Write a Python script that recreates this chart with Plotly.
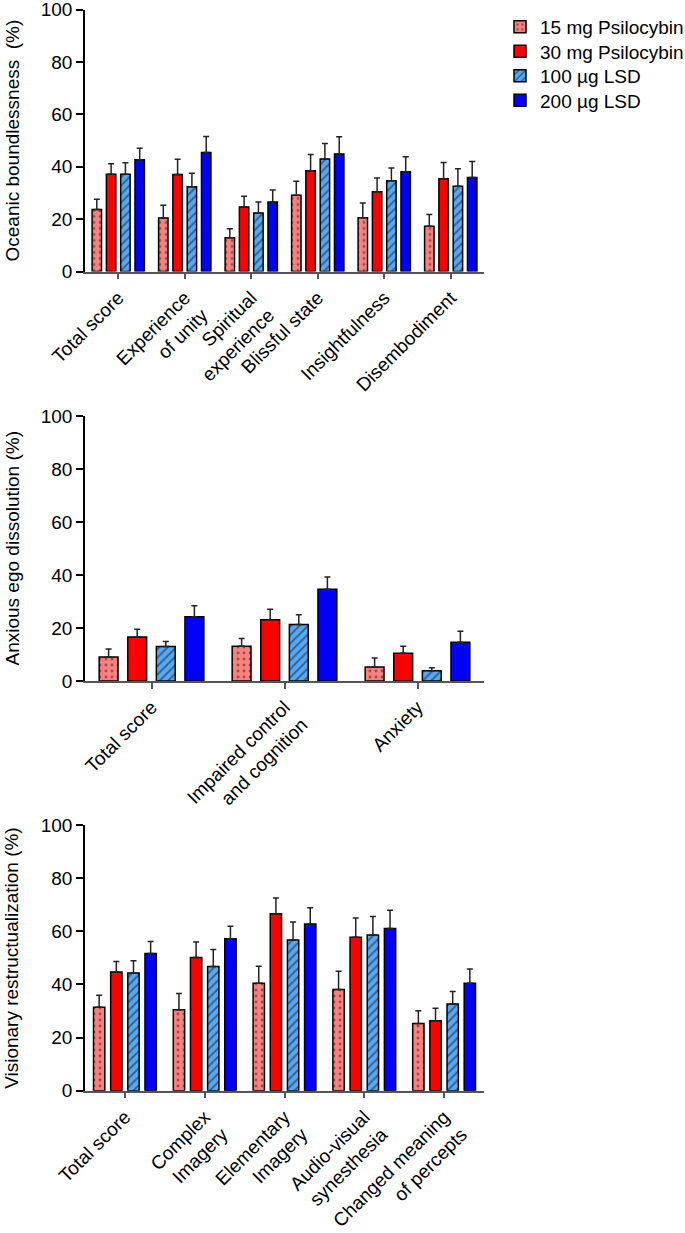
import plotly.graph_objects as go

# ---------------- data ----------------
series_names = ["15 mg Psilocybin", "30 mg Psilocybin", "100 \u00b5g LSD", "200 \u00b5g LSD"]

obn_categories = ["Total score", "Experience<br>of unity", "Spiritual<br>experience",
                  "Blissful state", "Insightfulness", "Disembodiment"]
obn_psi15 = [23.7, 20.4, 12.9, 29.1, 20.5, 17.3]
obn_psi30 = [37.1, 37.0, 24.6, 38.5, 30.4, 35.4]
obn_lsd100 = [37.1, 32.3, 22.3, 42.9, 34.6, 32.5]
obn_lsd200 = [42.7, 45.4, 26.5, 44.8, 38.1, 35.9]
obn_psi15_sem = [3.9, 4.9, 3.4, 5.3, 5.6, 4.5]
obn_psi30_sem = [4.0, 5.8, 4.1, 6.2, 5.3, 6.2]
obn_lsd100_sem = [4.4, 5.2, 4.2, 6.0, 4.9, 6.7]
obn_lsd200_sem = [4.3, 6.1, 4.6, 6.6, 5.7, 6.1]

aed_categories = ["Total score", "Impaired control<br>and cognition", "Anxiety"]
aed_psi15 = [9.1, 13.1, 5.3]
aed_psi30 = [16.6, 23.1, 10.5]
aed_lsd100 = [13.0, 21.3, 3.9]
aed_lsd200 = [24.2, 34.6, 14.6]
aed_psi15_sem = [3.0, 2.9, 3.4]
aed_psi30_sem = [2.9, 4.0, 2.6]
aed_lsd100_sem = [1.9, 3.7, 1.1]
aed_lsd200_sem = [4.2, 4.6, 4.2]

vr_categories = ["Total score", "Complex<br>Imagery", "Elementary<br>Imagery",
                 "Audio-visual<br>synesthesia", "Changed meaning<br>of percepts"]
vr_psi15 = [31.4, 30.5, 40.4, 38.1, 25.3]
vr_psi30 = [44.7, 50.1, 66.6, 57.8, 26.3]
vr_lsd100 = [44.3, 46.7, 56.7, 58.6, 32.6]
vr_lsd200 = [51.6, 57.2, 62.7, 61.0, 40.4]
vr_psi15_sem = [4.5, 6.1, 6.4, 6.9, 4.8]
vr_psi30_sem = [3.9, 5.9, 5.9, 7.2, 4.7]
vr_lsd100_sem = [4.6, 6.4, 6.8, 7.0, 4.7]
vr_lsd200_sem = [4.6, 4.7, 6.2, 6.9, 5.4]

y_titles = ["Oceanic boundlessness  (%)", "Anxious ego dissolution (%)",
            "Visionary restructualization (%)"]
y_ticks = [0, 20, 40, 60, 80, 100]

# ---------------- styles ----------------
fills = ["#FF7F7F", "#FF0000", "#55A8F5", "#0000FF"]
patterns = [dict(shape=".", fgcolor="#222222", size=6, solidity=0.18, fillmode="overlay"),
            None,
            dict(shape="/", fgcolor="#111111", size=6, solidity=0.3, fillmode="overlay"),
            None]
FONT = "Liberation Sans, Arial, sans-serif"
FS = 19

W, H = 685, 1233
x_dom = [85 / W, 484 / W]
legend_rows_px = [27, 51.5, 76, 100.5]
panels = [
    dict(cats=obn_categories, vals=[obn_psi15, obn_psi30, obn_lsd100, obn_lsd200],
         sems=[obn_psi15_sem, obn_psi30_sem, obn_lsd100_sem, obn_lsd200_sem],
         top=9.5, bottom=271.5),
    dict(cats=aed_categories, vals=[aed_psi15, aed_psi30, aed_lsd100, aed_lsd200],
         sems=[aed_psi15_sem, aed_psi30_sem, aed_lsd100_sem, aed_lsd200_sem],
         top=416, bottom=681),
    dict(cats=vr_categories, vals=[vr_psi15, vr_psi30, vr_lsd100, vr_lsd200],
         sems=[vr_psi15_sem, vr_psi30_sem, vr_lsd100_sem, vr_lsd200_sem],
         top=825, bottom=1090.7),
]

fig = go.Figure()
layout = dict(
    template="none",
    width=W, height=H,
    margin=dict(l=0, r=0, t=0, b=0, autoexpand=False),
    paper_bgcolor="white", plot_bgcolor="white",
    barmode="group", bargap=0.14, bargroupgap=0.34,
    font=dict(family=FONT, color="black", size=FS),
    showlegend=True,
    annotations=[],
)
legend_keys = ["legend", "legend2", "legend3", "legend4"]
for s_i, key in enumerate(legend_keys):
    layout[key] = dict(x=500 / W, y=1 - legend_rows_px[s_i] / H,
                       xanchor="left", yanchor="middle",
                       font=dict(size=FS, family=FONT),
                       bgcolor="rgba(0,0,0,0)", borderwidth=0)

for p_i, p in enumerate(panels):
    ax = "" if p_i == 0 else str(p_i + 1)
    y_dom = [1 - p["bottom"] / H, 1 - p["top"] / H]
    for s_i in range(4):
        marker = dict(color=fills[s_i], line=dict(color="black", width=1.5))
        if patterns[s_i] is not None:
            marker["pattern"] = patterns[s_i]
        fig.add_trace(go.Bar(
            x=p["cats"], y=p["vals"][s_i], name=series_names[s_i],
            marker=marker,
            error_y=dict(type="data", symmetric=False, array=p["sems"][s_i],
                         arrayminus=[0] * len(p["cats"]), color="#222222",
                         thickness=1.5, width=3),
            xaxis="x" + ax, yaxis="y" + ax,
            legend=legend_keys[s_i],
            showlegend=(p_i == 0),
        ))
    layout["xaxis" + ax] = dict(
        domain=x_dom, anchor="y" + ax, type="category", automargin=False,
        range=[-0.5, len(p["cats"]) - 0.5], ticklabeloverflow="allow",
        showline=True, linecolor="#555555", linewidth=1.5,
        ticks="outside", ticklen=6, tickwidth=1.5, tickcolor="#555555",
        tickangle=-45, tickfont=dict(size=FS, family=FONT, color="black"),
        showgrid=False, zeroline=False, fixedrange=True,
    )
    layout["yaxis" + ax] = dict(
        domain=y_dom, anchor="x" + ax, range=[0, 100], automargin=False,
        tickvals=y_ticks, ticktext=[str(v) for v in y_ticks],
        ticklabeloverflow="allow",
        showline=True, linecolor="black", linewidth=1.5,
        ticks="outside", ticklen=7, tickwidth=1.5, tickcolor="black",
        tickfont=dict(size=FS, family=FONT, color="black"),
        showgrid=False, zeroline=False, fixedrange=True,
    )
    layout["annotations"].append(dict(
        text=y_titles[p_i], textangle=-90, showarrow=False,
        xref="paper", yref="paper", x=12 / W, y=(y_dom[0] + y_dom[1]) / 2,
        xanchor="center", yanchor="middle",
        font=dict(size=FS, family=FONT, color="black"),
    ))

fig.update_layout(**layout)
fig.write_html("out.html",
               config={"displayModeBar": False},
               post_script="document.body.style.margin='0px';document.body.style.overflow='hidden';")
